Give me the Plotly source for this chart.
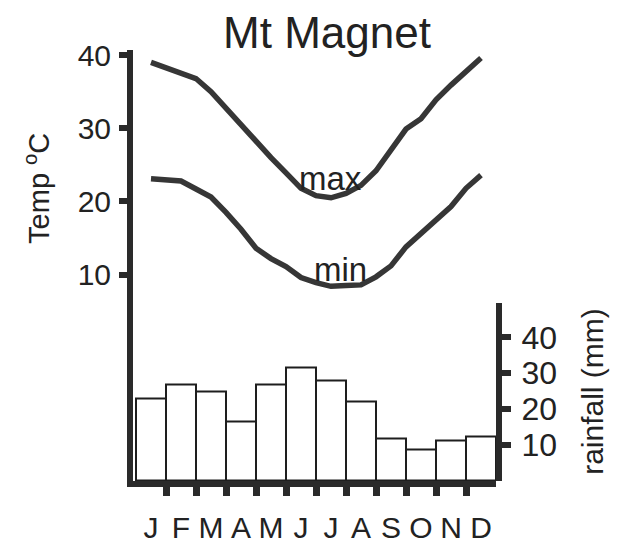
import plotly.graph_objects as go

# ---- data ----
months = ["J", "F", "M", "A", "M", "J", "J", "A", "S", "O", "N", "D"]
month_index = [0, 1, 2, 3, 4, 5, 6, 7, 8, 9, 10, 11]
rainfall_mm = [23, 27, 25, 16.5, 27, 31.7, 28, 22, 11.8, 8.7, 11.2, 12.5]

# temperature curves read at half-month steps
temp_x = [0, 0.5, 1, 1.5, 2, 2.5, 3, 3.5, 4, 4.5, 5, 5.5,
          6, 6.5, 7, 7.5, 8, 8.5, 9, 9.5, 10, 10.5, 11]
temp_max = [39.0, 38.2, 37.5, 36.8, 35.0, 32.7, 30.4, 28.2, 26.0, 23.9, 21.8, 20.8,
            20.5, 21.1, 22.2, 24.2, 27.1, 29.9, 31.3, 33.9, 35.9, 37.8, 39.6]
temp_min = [23.1, 23.0, 22.8, 21.7, 20.6, 18.5, 16.2, 13.6, 12.2, 11.1, 9.6, 8.9,
            8.4, 8.5, 8.6, 9.7, 11.2, 13.8, 15.7, 17.4, 19.3, 21.8, 23.6]

temp_ticks = [10, 20, 30, 40]
rain_ticks = [10, 20, 30, 40]

INK = "#2a2a2a"
TXT = "#222222"
FONT = "Liberation Sans, Arial, Helvetica, sans-serif"

fig = go.Figure()

fig.add_trace(go.Bar(
    x=month_index, y=rainfall_mm, width=1,
    marker=dict(color="white", line=dict(color="#1e1e1e", width=2)),
    xaxis="x", yaxis="y2", showlegend=False,
))
fig.add_trace(go.Scatter(
    x=temp_x, y=temp_max, mode="lines",
    line=dict(color="#363636", width=5.5),
    xaxis="x", yaxis="y", showlegend=False,
))
fig.add_trace(go.Scatter(
    x=temp_x, y=temp_min, mode="lines",
    line=dict(color="#363636", width=5.5),
    xaxis="x", yaxis="y", showlegend=False,
))

boundaries = [i + 0.5 for i in month_index[:-1]]

# page body has an 8px default margin, so the figure is sized to fit the window
fig.update_layout(
    width=615, height=548,
    margin=dict(l=125, r=127, t=42, b=59),
    paper_bgcolor="white", plot_bgcolor="white",
    font=dict(family=FONT, color=TXT),
    showlegend=False,
    bargap=0,
    title=dict(text="Mt Magnet", x=0.5187, y=0.955, xref="container", yref="container",
               xanchor="center", yanchor="middle",
               font=dict(size=44, family=FONT, color=TXT)),
    xaxis=dict(
        range=[-0.6, 11.5], showgrid=False, zeroline=False,
        showline=True, linewidth=6, linecolor=INK,
        tickmode="array", tickvals=month_index, ticktext=months,
        ticks="", tickfont=dict(size=30, color=TXT),
        ticklabelstandoff=15,
        minor=dict(tickmode="array", tickvals=boundaries, ticks="outside",
                   ticklen=9, tickwidth=7, tickcolor=INK, showgrid=False),
    ),
    yaxis=dict(
        domain=[0, 1], range=[-18.2, 40.7], showgrid=False, zeroline=False,
        showline=True, linewidth=6, linecolor=INK,
        tickmode="array", tickvals=temp_ticks,
        ticks="outside", ticklen=8, tickwidth=6, tickcolor=INK,
        tickfont=dict(size=30, color=TXT), ticklabelstandoff=2,
    ),
    yaxis2=dict(
        domain=[0, 0.414], range=[0, 49.7], anchor="x", side="right",
        showgrid=False, zeroline=False,
        showline=True, linewidth=6, linecolor=INK,
        tickmode="array", tickvals=rain_ticks,
        ticks="outside", ticklen=9, tickwidth=6, tickcolor=INK,
        tickfont=dict(size=32, color=TXT), ticklabelstandoff=4,
    ),
    annotations=[
        dict(text="max", x=5.97, y=23.1, xref="x", yref="y", showarrow=False,
             font=dict(size=33, color=TXT)),
        dict(text="min", x=6.33, y=10.7, xref="x", yref="y", showarrow=False,
             font=dict(size=33, color=TXT)),
        dict(text="Temp <sup>o</sup>C", x=-0.2645, y=0.680, xref="paper", yref="paper",
             textangle=-90, showarrow=False, xanchor="center", yanchor="middle",
             font=dict(size=29, color=TXT)),
        dict(text="rainfall (mm)", x=1.267, y=0.209, xref="paper", yref="paper",
             textangle=-90, showarrow=False, xanchor="center", yanchor="middle",
             font=dict(size=30, color=TXT)),
    ],
)

fig.write_html("out.html")
